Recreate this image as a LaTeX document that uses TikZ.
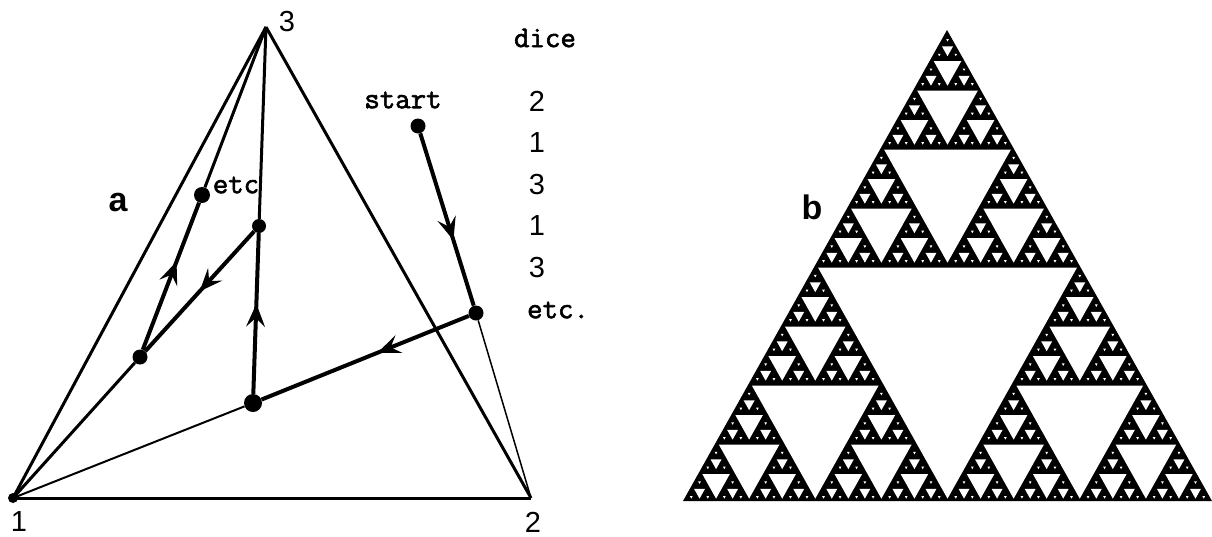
\documentclass[tikz,border=0pt]{standalone}
\usepackage{fontspec}
\setsansfont{Liberation Sans}
\usetikzlibrary{arrows.meta,decorations.markings}
\newfontfamily\typewr{Latin Modern Mono}[FakeBold=2]
\newfontfamily\digitfont{Liberation Sans}
\newcommand{\sierp}[4]{% apex x, apex y, width, depth
  \begingroup
  \pgfmathsetmacro{\hh}{#3*0.892}
  \pgfmathsetmacro{\hw}{#3/2-5.5}
  \pgfmathsetmacro{\hn}{\hw*0.892}
  \pgfmathsetmacro{\cy}{#2+\hh*0.5+\hh*0.5/3}
  \pgfmathsetmacro{\ty}{\cy-\hn/3}
  \pgfmathsetmacro{\by}{\cy+2*\hn/3}
  \pgfmathsetmacro{\xa}{#1-\hw/2}
  \pgfmathsetmacro{\xb}{#1+\hw/2}
  \fill[white] (\xa,\ty) -- (\xb,\ty) -- (#1,\by) -- cycle;
  \ifnum#4>1
    \pgfmathsetmacro{\nw}{#3/2}
    \pgfmathsetmacro{\lx}{#1-#3/4}
    \pgfmathsetmacro{\rx}{#1+#3/4}
    \pgfmathsetmacro{\my}{#2+\hh/2}
    \pgfmathtruncatemacro{\nd}{#4-1}
    \edef\sierpnext{%
      \noexpand\sierp{#1}{#2}{\nw}{\nd}%
      \noexpand\sierp{\lx}{\my}{\nw}{\nd}%
      \noexpand\sierp{\rx}{\my}{\nw}{\nd}}%
    \sierpnext
  \fi
  \endgroup
}
\tikzset{
  dot/.style={circle,fill=black,inner sep=0pt,minimum size=#1},
  dot/.default=15pt,
  edgeline/.style={line width=3pt},
  thinline/.style={line width=2pt},
  hairline/.style={line width=1.5pt},
  heavyline/.style={line width=4pt},
  midarrow/.style={postaction={decorate},decoration={markings,
    mark=at position #1 with {\arrow[line width=1.5pt]{Stealth[length=23pt,width=19pt,inset=9pt]}}}},
  tw/.style={font=\typewr\fontsize{30}{30}\selectfont,inner sep=0pt},
  num/.style={font=\digitfont\fontsize{29}{29}\selectfont,inner sep=0pt},
  panel/.style={font=\sffamily\bfseries\fontsize{34}{34}\selectfont,inner sep=0pt}
}
\begin{document}
\begin{tikzpicture}[x=1pt,y=-1pt]
\useasboundingbox (0,0) rectangle (1212,536);
% part a
\coordinate (v1) at (13,498);
\coordinate (v2) at (531,498);
\coordinate (v3) at (266,27);
\node[dot=15pt] (s) at (418,126) {};
\node[dot=15pt] (A) at (476,313) {};
\node[dot=18pt] (B) at (253,403) {};
\node[dot=14pt] (C) at (259,226) {};
\node[dot=15pt] (D) at (140,357) {};
\node[dot=16pt] (E) at (202,195) {};
\node[dot=10pt] (vd) at (v1) {};
\draw[edgeline] (v1) -- (v3);
\draw[edgeline] (v3) -- (v2);
\draw[edgeline] (v1) -- (v2);
\draw[hairline] (A) -- (v2);
\draw[thinline] (v1) -- (B);
\draw[edgeline] (v3) -- (C);
\draw[edgeline] (v1) -- (D);
\draw[edgeline] (E) -- (v3);
\draw[heavyline,midarrow=0.62] (s) -- (A);
\draw[heavyline,midarrow=0.44] (A) -- (B);
\draw[heavyline,midarrow=0.56] (B) -- (C);
\draw[heavyline,midarrow=0.50] (C) -- (D);
\draw[heavyline,midarrow=0.60] (D) -- (E);
\node[panel] (la) at (118,203) {a};
\node[num] (t3) at (287,22) {3};
\node[num] (t1) at (19,522) {1};
\node[num] (t2) at (533,522) {2};
\node[tw] (tetc) at (236,185) {etc};
\node[tw] (tstart) at (403,100) {start};
\node[tw] (tdice) at (545,38) {dice};
\node[num] (d1) at (537,101) {2};
\node[num] (d2) at (537,143) {1};
\node[num] (d3) at (537,185) {3};
\node[num] (d4) at (537,226) {1};
\node[num] (d5) at (537,268) {3};
\node[tw] (tetc2) at (558,310) {etc.};
% part b
\node[panel] (lb) at (812,207) {b};
\fill (947,30) -- (1212,501) -- (683,501) -- cycle;
\sierp{947.5}{30}{529}{6}
\end{tikzpicture}
\end{document}
